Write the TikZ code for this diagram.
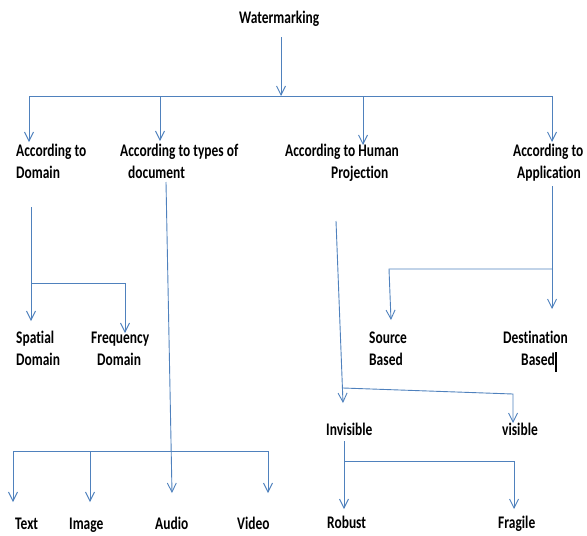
\documentclass[tikz,border=0pt]{standalone}
\usepackage{fontspec}
\setmainfont[Ligatures=NoCommon]{Carlito}
\usetikzlibrary{arrows.meta}
\definecolor{lineblue}{RGB}{79,129,189}
\tikzset{
  ln/.style={draw=lineblue, line width=0.9pt},
  arr/.style={ln, -{Straight Barb[length=9pt,width=9pt]}},
  lbl/.style={anchor=base west, inner sep=0pt, font=\fontsize{17.7}{22}\selectfont\bfseries},
}
\newcommand{\sq}[1]{\scalebox{0.76}[1]{#1}}
\newcommand{\twolines}[2]{\sq{\begin{tabular}[t]{@{}l@{}}#1\\#2\end{tabular}}}
\begin{document}
\begin{tikzpicture}[x=1pt, y=-1pt]
\useasboundingbox (0,0) rectangle (587,536);
% labels
\node[lbl] (wm)  at (239,23)  {\sq{Watermarking}};
\node[lbl] (dom) at (16,156)  {\twolines{According to}{Domain}};
\node[lbl] (doc) at (120,156) {\twolines{According to types of}{\hspace*{10.5pt}document}};
\node[lbl] (hum) at (285,156) {\twolines{According to Human}{\hspace*{60.5pt}Projection}};
\node[lbl] (app) at (513,156) {\twolines{According to}{\hspace*{5.3pt}Application}};
\node[lbl] (spa) at (16,343)  {\twolines{Spatial}{Domain}};
\node[lbl] (fre) at (91,343)  {\twolines{Frequency}{\hspace*{7.9pt}Domain}};
\node[lbl] (src) at (369,343) {\twolines{Source}{Based}};
\node[lbl] (dst) at (503,343) {\twolines{Destination}{\hspace*{23.7pt}Based}};
\node[lbl] (inv) at (326,435) {\sq{Invisible}};
\node[lbl] (vis) at (502,435) {\sq{visible}};
\node[lbl] (txt) at (15,529)  {\sq{Text}};
\node[lbl] (img) at (69,529)  {\sq{Image}};
\node[lbl] (aud) at (155,529) {\sq{Audio}};
\node[lbl] (vid) at (237,529) {\sq{Video}};
\node[lbl] (rob) at (327,528) {\sq{Robust}};
\node[lbl] (fra) at (498,528) {\sq{Fragile}};
% junction coordinates
\coordinate (wmS)  at (281,37);
\coordinate (b0)   at (281,96);
\coordinate (bL)   at (29,96);
\coordinate (bD)   at (160,96);
\coordinate (bH)   at (363,96);
\coordinate (bA)   at (552,96);
\coordinate (domT) at (29,142);
\coordinate (docT) at (160,141);
\coordinate (humT) at (363,145);
\coordinate (appT) at (552,142);
% domain branch
\coordinate (domS) at (31,207);
\coordinate (domJ) at (31,283);
\coordinate (spaT) at (31,321);
\coordinate (freT) at (125,333);
% document branch
\coordinate (docS) at (166,182);
\coordinate (audT) at (172,493);
\coordinate (tL)   at (13,451);
\coordinate (tI)   at (90,451);
\coordinate (tR)   at (268,451);
\coordinate (txtT) at (13,502);
\coordinate (imgT) at (90,502);
\coordinate (vidT) at (268,493);
% human projection branch
\coordinate (humS) at (336,221);
\coordinate (invT) at (343,403);
\coordinate (humJ) at (343,388);
\coordinate (visJ) at (513,394);
\coordinate (visT) at (513,423);
\coordinate (invS) at (344,441);
\coordinate (invJ) at (344,461);
\coordinate (robT) at (344,509);
\coordinate (fraT) at (514,509);
% application branch
\coordinate (appS) at (552,186);
\coordinate (appJ) at (552,269);
\coordinate (dstT) at (552,309);
\coordinate (srcJ) at (389,269);
\coordinate (srcT) at (391,320);
% connectors
\draw[arr] (wmS) -- (b0);
\draw[ln]  (bL) -- (bA);
\draw[arr] (bL) -- (domT);
\draw[arr] (bD) -- (docT);
\draw[arr] (bH) -- (humT);
\draw[arr] (bA) -- (appT);
\draw[arr] (domS) -- (spaT);
\draw[arr] (domJ) -| (freT);
\draw[arr] (docS) -- (audT);
\draw[ln]  (tL) -- (tR);
\draw[arr] (tL) -- (txtT);
\draw[arr] (tI) -- (imgT);
\draw[arr] (tR) -- (vidT);
\draw[arr] (humS) -- (invT);
\draw[arr] (humJ) -- (visJ) -- (visT);
\draw[arr] (invS) -- (robT);
\draw[arr] (invJ) -| (fraT);
\draw[arr] (appS) -- (dstT);
\draw[arr] (appJ) -- (srcJ) -- (srcT);
% text cursor mark
\draw[line width=1.3pt] (556,352) -- (556,372);
\end{tikzpicture}
\end{document}
